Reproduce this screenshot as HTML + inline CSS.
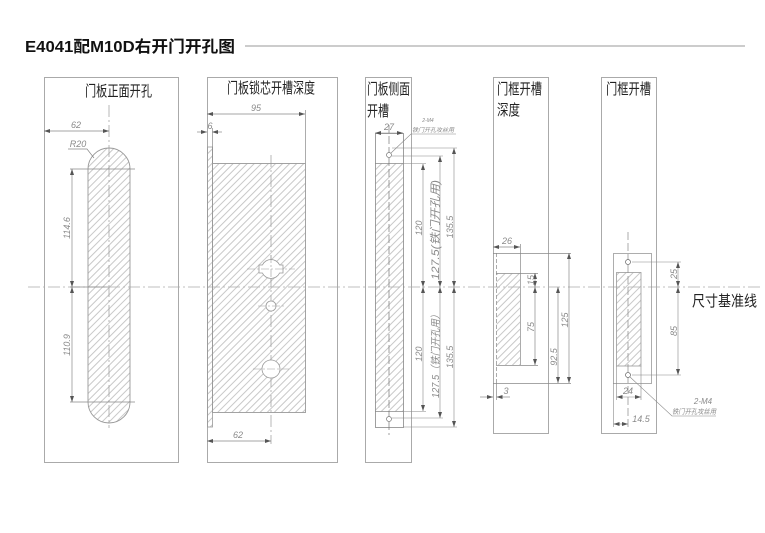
<!DOCTYPE html>
<html><head><meta charset="utf-8"><style>
html,body{margin:0;padding:0;background:#fff;}
svg{display:block;}
.t{font-family:"Liberation Sans","Noto Sans CJK SC",sans-serif;}
.d{font-family:"Liberation Sans","Noto Sans CJK SC",sans-serif;font-style:italic;fill:#8a8a8a;font-size:9px;}
.cj{font-family:"Noto Sans CJK SC","WenQuanYi Zen Hei",sans-serif;fill:#222;font-size:15px;}
</style></head><body>
<svg width="765" height="533" viewBox="0 0 765 533" xmlns="http://www.w3.org/2000/svg">
<defs>
<pattern id="h" patternUnits="userSpaceOnUse" width="5" height="5" patternTransform="rotate(45)">
<line x1="0.5" y1="0" x2="0.5" y2="5" stroke="#b0b0b0" stroke-width="0.7"/>
</pattern>
<marker id="a" viewBox="0 0 6 4" refX="6" refY="2" markerWidth="6" markerHeight="4" markerUnits="userSpaceOnUse" orient="auto-start-reverse">
<path d="M0,0 L6,2 L0,4 z" fill="#555"/>
</marker>
</defs>
<rect width="765" height="533" fill="#fff"/>

<!-- title -->
<text x="25" y="52" class="t" font-size="16" font-weight="bold" fill="#111" textLength="210" lengthAdjust="spacingAndGlyphs">E4041配M10D右开门开孔图</text>
<line x1="245" y1="46" x2="745" y2="46" stroke="#999" stroke-width="1"/>

<!-- global datum line -->
<line x1="28" y1="287" x2="760" y2="287" stroke="#aaa" stroke-width="0.8" stroke-dasharray="12 3 2 3"/>
<text x="692" y="306" class="cj" textLength="65" lengthAdjust="spacingAndGlyphs">尺寸基准线</text>

<g fill="none" stroke="#aaa" stroke-width="1">
<rect x="44.5" y="77.5" width="134" height="385"/>
<rect x="207.5" y="77.5" width="130" height="385"/>
<rect x="365.5" y="77.5" width="46" height="385"/>
<rect x="493.5" y="77.5" width="55" height="356"/>
<rect x="601.5" y="77.5" width="55" height="356"/>
</g>

<!-- panel titles -->
<text x="85" y="96" class="cj" textLength="67" lengthAdjust="spacingAndGlyphs">门板正面开孔</text>
<text x="227" y="93" class="cj" textLength="88" lengthAdjust="spacingAndGlyphs">门板锁芯开槽深度</text>
<text x="367" y="94" class="cj" textLength="43" lengthAdjust="spacingAndGlyphs">门板侧面</text>
<text x="367" y="116" class="cj" textLength="22" lengthAdjust="spacingAndGlyphs">开槽</text>
<text x="497" y="94" class="cj" textLength="45" lengthAdjust="spacingAndGlyphs">门框开槽</text>
<text x="497" y="115" class="cj" textLength="23" lengthAdjust="spacingAndGlyphs">深度</text>
<text x="606" y="94" class="cj" textLength="45" lengthAdjust="spacingAndGlyphs">门框开槽</text>

<!-- ========== PANEL 1 ========== -->
<path d="M88,169 A21,21 0 0 1 130,169 L130,402 A21,21 0 0 1 88,402 Z" fill="url(#h)" stroke="#999" stroke-width="0.9"/>
<line x1="109" y1="105" x2="109" y2="428" stroke="#999" stroke-width="0.7" stroke-dasharray="12 3 2 3"/>
<g stroke="#888" stroke-width="0.7" fill="none">
<line x1="44" y1="131" x2="109" y2="131" marker-start="url(#a)" marker-end="url(#a)"/>
<line x1="70" y1="169" x2="135" y2="169"/>
<line x1="70" y1="287" x2="108" y2="287"/>
<line x1="70" y1="402" x2="135" y2="402"/>
<line x1="72" y1="169" x2="72" y2="287" marker-start="url(#a)" marker-end="url(#a)"/>
<line x1="72" y1="287" x2="72" y2="402" marker-start="url(#a)" marker-end="url(#a)"/>
<polyline points="68,149 87,149 94,158"/>
</g>
<text x="76" y="128" class="d" text-anchor="middle">62</text>
<text x="78" y="147" class="d" text-anchor="middle">R20</text>
<text class="d" text-anchor="middle" transform="translate(70,228) rotate(-90)">114.6</text>
<text class="d" text-anchor="middle" transform="translate(70,345) rotate(-90)">110.9</text>

<!-- ========== PANEL 2 ========== -->
<rect x="207.5" y="147" width="5" height="280" fill="url(#h)" stroke="#999" stroke-width="0.8"/>
<rect x="212.5" y="163.5" width="93" height="249" fill="url(#h)" stroke="#999" stroke-width="0.9"/>
<line x1="271" y1="155" x2="271" y2="444" stroke="#999" stroke-width="0.7" stroke-dasharray="12 3 2 3"/>
<path d="M262.4,265 A9.5,9.5 0 0 1 279.6,265 L283,265 L283,273 L279.6,273 A9.5,9.5 0 0 1 262.4,273 L259,273 L259,265 Z" fill="#fff" stroke="#999" stroke-width="0.8"/>
<circle cx="271" cy="306" r="5" fill="#fff" stroke="#999" stroke-width="0.8"/>
<circle cx="271" cy="369" r="9" fill="#fff" stroke="#999" stroke-width="0.8"/>
<g stroke="#999" stroke-width="0.6" stroke-dasharray="8 2 2 2">
<line x1="247" y1="269" x2="295" y2="269"/>
<line x1="271" y1="255" x2="271" y2="283"/>
<line x1="258" y1="306" x2="284" y2="306"/>
<line x1="253" y1="369" x2="289" y2="369"/>
</g>
<g stroke="#888" stroke-width="0.7" fill="none">
<line x1="207" y1="114" x2="305" y2="114" marker-start="url(#a)" marker-end="url(#a)"/>
<line x1="305.5" y1="110" x2="305.5" y2="163"/>
<line x1="197" y1="132" x2="207" y2="132" marker-end="url(#a)"/>
<line x1="222" y1="132" x2="212" y2="132" marker-end="url(#a)"/>
<line x1="212.5" y1="128" x2="212.5" y2="163"/>
<line x1="207" y1="441" x2="271" y2="441" marker-start="url(#a)" marker-end="url(#a)"/>
</g>
<text x="256" y="111" class="d" text-anchor="middle">95</text>
<text x="210" y="129" class="d" text-anchor="middle">6</text>
<text x="238" y="438" class="d" text-anchor="middle">62</text>

<!-- ========== PANEL 3 ========== -->
<rect x="375.5" y="163.5" width="28" height="248" fill="url(#h)"/>
<g stroke="#888" stroke-width="0.8" fill="none">
<rect x="375.5" y="133.5" width="28" height="294"/>
<line x1="375" y1="163.5" x2="403" y2="163.5"/>
<line x1="375" y1="411.5" x2="403" y2="411.5"/>
</g>
<line x1="389" y1="125" x2="389" y2="435" stroke="#777" stroke-width="0.7" stroke-dasharray="8 3"/>
<circle cx="389" cy="155" r="2.5" fill="#fff" stroke="#777" stroke-width="0.7"/>
<circle cx="389" cy="419" r="2.5" fill="#fff" stroke="#777" stroke-width="0.7"/>
<g stroke="#888" stroke-width="0.6" fill="none">
<line x1="375" y1="133" x2="403" y2="133" marker-start="url(#a)" marker-end="url(#a)"/>
<polyline points="391,153 411,134 456,134"/>
<line x1="392" y1="148" x2="457" y2="148"/>
<line x1="392" y1="156" x2="443" y2="156"/>
<line x1="403" y1="163.5" x2="426" y2="163.5"/>
<line x1="403" y1="411.5" x2="426" y2="411.5"/>
<line x1="392" y1="418" x2="443" y2="418"/>
<line x1="403" y1="427" x2="457" y2="427"/>
<line x1="423" y1="164" x2="423" y2="287" marker-start="url(#a)" marker-end="url(#a)"/>
<line x1="423" y1="287" x2="423" y2="411" marker-start="url(#a)" marker-end="url(#a)"/>
<line x1="440" y1="156" x2="440" y2="287" marker-start="url(#a)" marker-end="url(#a)"/>
<line x1="440" y1="287" x2="440" y2="418" marker-start="url(#a)" marker-end="url(#a)"/>
<line x1="454" y1="148" x2="454" y2="287" marker-start="url(#a)" marker-end="url(#a)"/>
<line x1="454" y1="287" x2="454" y2="427" marker-start="url(#a)" marker-end="url(#a)"/>
</g>
<text x="389" y="130" class="d" text-anchor="middle">27</text>
<text x="428" y="122" class="d" text-anchor="middle" style="font-size:5px">2-M4</text>
<text x="412" y="132" class="d" style="font-size:6px" textLength="42" lengthAdjust="spacingAndGlyphs">铁门开孔攻丝用</text>
<text class="d" text-anchor="middle" transform="translate(422,228) rotate(-90)">120</text>
<text class="d" text-anchor="middle" style="font-size:11px" textLength="100" lengthAdjust="spacingAndGlyphs" transform="translate(439,230) rotate(-90)">127.5(铁门开孔用)</text>
<text class="d" text-anchor="middle" transform="translate(453,227) rotate(-90)">135.5</text>
<text class="d" text-anchor="middle" transform="translate(422,354) rotate(-90)">120</text>
<text class="d" text-anchor="middle" style="font-size:10px" textLength="88" lengthAdjust="spacingAndGlyphs" transform="translate(439,354) rotate(-90)">127.5（铁门开孔用）</text>
<text class="d" text-anchor="middle" transform="translate(453,357) rotate(-90)">135.5</text>

<!-- ========== PANEL 4 ========== -->
<rect x="496.5" y="273.5" width="23.5" height="91.5" fill="url(#h)"/>
<line x1="496.5" y1="253" x2="496.5" y2="383" stroke="#888" stroke-width="0.7" stroke-dasharray="4 2"/>
<g stroke="#888" stroke-width="0.7" fill="none">
<line x1="493" y1="253.5" x2="571" y2="253.5"/>
<line x1="493" y1="383.5" x2="571" y2="383.5"/>
<line x1="520.5" y1="244" x2="520.5" y2="365"/>
<line x1="496" y1="273.5" x2="538" y2="273.5"/>
<line x1="496" y1="365.5" x2="538" y2="365.5"/>
<line x1="493" y1="247" x2="520" y2="247" marker-start="url(#a)" marker-end="url(#a)"/>
<line x1="535" y1="273" x2="535" y2="287" marker-start="url(#a)" marker-end="url(#a)"/>
<line x1="535" y1="287" x2="535" y2="365" marker-start="url(#a)" marker-end="url(#a)"/>
<line x1="558" y1="287" x2="558" y2="383" marker-start="url(#a)" marker-end="url(#a)"/>
<line x1="569" y1="253" x2="569" y2="383" marker-start="url(#a)" marker-end="url(#a)"/>
<line x1="480" y1="397" x2="493" y2="397" marker-end="url(#a)"/>
<line x1="510" y1="397" x2="496.5" y2="397" marker-end="url(#a)"/>
<line x1="496.5" y1="383" x2="496.5" y2="400"/>
</g>
<text x="507" y="244" class="d" text-anchor="middle">26</text>
<text x="506" y="394" class="d" text-anchor="middle">3</text>
<text class="d" text-anchor="middle" transform="translate(534,280) rotate(-90)">15</text>
<text class="d" text-anchor="middle" transform="translate(534,327) rotate(-90)">75</text>
<text class="d" text-anchor="middle" transform="translate(557,357) rotate(-90)">92.5</text>
<text class="d" text-anchor="middle" transform="translate(568,320) rotate(-90)">125</text>

<!-- ========== PANEL 5 ========== -->
<rect x="616.5" y="272.5" width="24.5" height="93.5" fill="url(#h)" stroke="#999" stroke-width="0.8"/>
<rect x="613.5" y="253.5" width="38" height="130" fill="none" stroke="#999" stroke-width="0.8"/>
<line x1="628" y1="232" x2="628" y2="430" stroke="#888" stroke-width="0.7" stroke-dasharray="8 3"/>
<circle cx="628" cy="262" r="2.5" fill="#fff" stroke="#666" stroke-width="0.7"/>
<circle cx="628" cy="375" r="2.5" fill="#fff" stroke="#666" stroke-width="0.7"/>
<g stroke="#888" stroke-width="0.6" fill="none">
<line x1="632" y1="262" x2="681" y2="262"/>
<line x1="632" y1="375" x2="681" y2="375"/>
<line x1="678" y1="262" x2="678" y2="287" marker-start="url(#a)" marker-end="url(#a)"/>
<line x1="678" y1="287" x2="678" y2="375" marker-start="url(#a)" marker-end="url(#a)"/>
<line x1="616.5" y1="366" x2="616.5" y2="400"/>
<line x1="641" y1="366" x2="641" y2="400"/>
<line x1="616.5" y1="397" x2="641" y2="397" marker-start="url(#a)" marker-end="url(#a)"/>
<line x1="613.5" y1="383" x2="613.5" y2="427"/>
<line x1="613.5" y1="424" x2="628" y2="424" marker-start="url(#a)" marker-end="url(#a)"/>
<polyline points="630,377 672,416 716,416"/>
</g>
<text x="628" y="394" class="d" text-anchor="middle">24</text>
<text x="641" y="422" class="d" text-anchor="middle">14.5</text>
<text class="d" text-anchor="middle" transform="translate(677,274) rotate(-90)">25</text>
<text class="d" text-anchor="middle" transform="translate(677,331) rotate(-90)">85</text>
<text x="703" y="404" class="d" text-anchor="middle" style="font-size:8px">2-M4</text>
<text x="672" y="414" class="d" style="font-size:7px" textLength="44" lengthAdjust="spacingAndGlyphs">铁门开孔攻丝用</text>
</svg>
</body></html>
